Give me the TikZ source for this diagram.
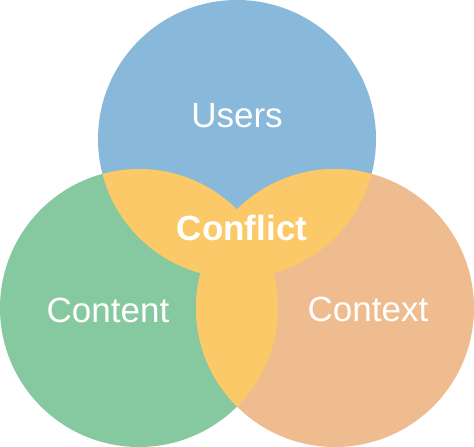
\documentclass[tikz,border=0pt]{standalone}
\usepackage{fontspec}
\setmainfont{Liberation Sans}
\definecolor{cblue}{HTML}{88B9DB}
\definecolor{cgreen}{HTML}{86C9A1}
\definecolor{corange}{HTML}{EFBC8F}
\definecolor{cyellow}{HTML}{FBC967}
\tikzset{
  lbl/.style={text=white, anchor=base, inner sep=0pt, font=\fontsize{35}{42}\selectfont},
}
\begin{document}
\begin{tikzpicture}[x=1pt,y=-1pt]
\useasboundingbox (0,0) rectangle (474,447);
\coordinate (ct) at (237,139);
\coordinate (cl) at (139,308);
\coordinate (cr) at (335,308);
\fill[cblue] (ct) circle[radius=139pt];
\fill[cgreen] (cl) circle[radius=139pt];
\fill[corange] (cr) circle[radius=139pt];
\begin{scope}
  \clip (ct) circle[radius=139pt];
  \fill[cyellow] (cl) circle[radius=139pt];
  \fill[cyellow] (cr) circle[radius=139pt];
\end{scope}
\begin{scope}
  \clip (cl) circle[radius=139pt];
  \fill[cyellow] (cr) circle[radius=139pt];
\end{scope}
\node[lbl] (users) at (237,127) {Users};
\node[lbl] (content) at (108,322) {Content};
\node[lbl] (context) at (368,321) {Context};
\node[lbl, font=\fontsize{35}{42}\selectfont\bfseries] (conflict) at (242,240) {Conflict};
\end{tikzpicture}
\end{document}
